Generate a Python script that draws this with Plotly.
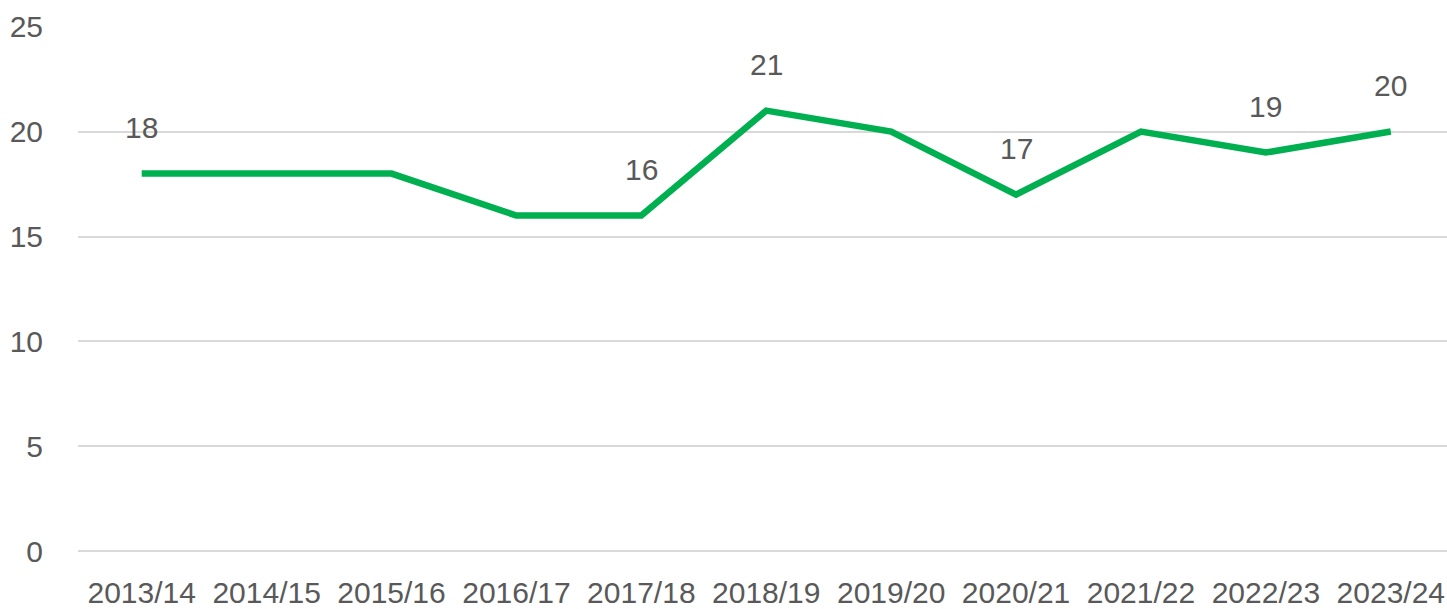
import plotly.graph_objects as go

years = ["2013/14", "2014/15", "2015/16", "2016/17", "2017/18", "2018/19",
         "2019/20", "2020/21", "2021/22", "2022/23", "2023/24"]
values = [18, 18, 18, 16, 16, 21, 20, 17, 20, 19, 20]
labelled = ["2013/14", "2017/18", "2018/19", "2020/21", "2022/23", "2023/24"]
y_ticks = [0, 5, 10, 15, 20, 25]

TXT = "#595959"
FONT = "Liberation Sans, Arial, sans-serif"
FS = 30

fig = go.Figure()
fig.add_trace(go.Scatter(x=years, y=values, mode="lines",
                         line=dict(color="#00B050", width=6.5),
                         hoverinfo="x+y"))

for yr, v in zip(years, values):
    if yr in labelled:
        fig.add_annotation(x=yr, y=v, text=str(v), showarrow=False,
                           yshift=46, font=dict(size=FS, color=TXT, family=FONT))

fig.update_layout(
    width=1447, height=609,
    margin=dict(l=78, r=0, t=26, b=57),
    paper_bgcolor="white", plot_bgcolor="white",
    showlegend=False,
    font=dict(family=FONT, size=FS, color=TXT),
    xaxis=dict(type="category", range=[-0.51, 10.45], showgrid=False,
               showline=False, zeroline=False, ticks="outside", ticklen=14,
               tickcolor="rgba(0,0,0,0)", tickfont=dict(size=FS, color=TXT)),
    yaxis=dict(range=[-0.03, 25.03], tickvals=y_ticks, showgrid=True,
               gridcolor="#D9D9D9", gridwidth=2, zeroline=True,
               zerolinecolor="#D9D9D9", zerolinewidth=2,
               showline=False, ticks="outside", ticklen=28,
               tickcolor="rgba(0,0,0,0)", tickfont=dict(size=FS, color=TXT)),
)

fig.write_html("out.html", config={"displayModeBar": False},
               post_script="document.body.style.margin='0';document.body.style.overflow='hidden';")
